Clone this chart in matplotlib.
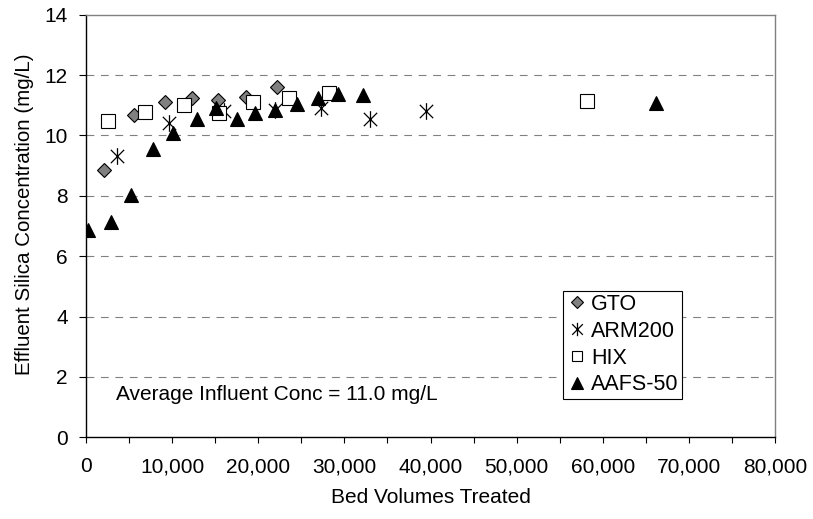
import matplotlib
matplotlib.use("Agg")
import matplotlib.pyplot as plt
from matplotlib.path import Path
from matplotlib.ticker import MultipleLocator, FuncFormatter

plt.rcParams['font.family'] = ['Liberation Sans', 'DejaVu Sans']
plt.rcParams['font.size'] = 15

# Data (bed volumes, effluent silica mg/L)
gto_x = [2120, 5610, 9140, 12270, 15290, 18540, 22140]
gto_y = [8.84, 10.68, 11.10, 11.25, 11.17, 11.26, 11.59]

arm_x = [3630, 9670, 16060, 21950, 27290, 32980, 39480]
arm_y = [9.32, 10.40, 10.81, 10.84, 10.90, 10.53, 10.81]

hix_x = [2590, 6850, 11410, 15480, 19430, 23610, 28250, 58140]
hix_y = [10.49, 10.77, 11.01, 10.73, 11.12, 11.23, 11.41, 11.14]

aafs_x = [200, 2900, 5190, 7740, 10140, 12850, 15090, 17490, 19620, 21950,
          24460, 26900, 29290, 32190, 66180]
aafs_y = [6.87, 7.12, 8.03, 9.54, 10.09, 10.54, 10.90, 10.54, 10.73, 10.84,
          11.03, 11.25, 11.37, 11.35, 11.06]

series_labels = ['GTO', 'ARM200', 'HIX', 'AAFS-50']
annotation = 'Average Influent Conc = 11.0 mg/L'
x_label = 'Bed Volumes Treated'
y_label = 'Effluent Silica Concentration (mg/L)'

# Excel-style star marker: X plus vertical line
star = Path([(0, -1), (0, 1), (-0.8, -0.8), (0.8, 0.8), (-0.8, 0.8), (0.8, -0.8)],
            [Path.MOVETO, Path.LINETO, Path.MOVETO, Path.LINETO, Path.MOVETO, Path.LINETO])

fig = plt.figure(figsize=(8.13, 5.19), dpi=100)
ax = fig.add_axes([0.1058, 0.1574, 0.9533 - 0.1058, 0.9717 - 0.1574])

ax.set_xlim(0, 80000)
ax.set_ylim(0, 14)

for yv in range(2, 14, 2):
    ax.axhline(yv, color='#808080', linewidth=0.8, linestyle=(0, (7, 6)), zorder=1)

ax.plot(gto_x, gto_y, linestyle='none', marker='D', markersize=7.5,
        markerfacecolor='#808080', markeredgecolor='black', markeredgewidth=0.8,
        label=series_labels[0], zorder=3)
ax.plot(arm_x, arm_y, linestyle='none', marker=star, markersize=12,
        markerfacecolor='none', markeredgecolor='black', markeredgewidth=0.9,
        label=series_labels[1], zorder=3)
ax.plot(hix_x, hix_y, linestyle='none', marker='s', markersize=9.5,
        markerfacecolor='white', markeredgecolor='black', markeredgewidth=0.8,
        label=series_labels[2], zorder=3)
ax.plot(aafs_x, aafs_y, linestyle='none', marker='^', markersize=10,
        markerfacecolor='black', markeredgecolor='black', markeredgewidth=0.8,
        label=series_labels[3], zorder=4)

for s in ('left', 'bottom'):
    ax.spines[s].set_color('black')
    ax.spines[s].set_linewidth(1.0)
for s in ('top', 'right'):
    ax.spines[s].set_color('#808080')
    ax.spines[s].set_linewidth(1.0)

ax.xaxis.set_major_locator(MultipleLocator(10000))
ax.xaxis.set_minor_locator(MultipleLocator(5000))
ax.yaxis.set_major_locator(MultipleLocator(2))
ax.xaxis.set_major_formatter(FuncFormatter(lambda v, p: f"{int(v):,}"))
ax.tick_params(axis='x', which='both', direction='out', length=4.5, width=0.8,
               pad=10, labelsize=15)
ax.tick_params(axis='y', direction='out', length=5, width=0.8, pad=8, labelsize=15)

ax.set_xlabel(x_label, fontsize=15, labelpad=8)
ax.set_ylabel(y_label, fontsize=14.8)
ax.yaxis.set_label_coords(-0.0755, 0.528)

ax.text(0.0435, 0.088, annotation, transform=ax.transAxes, fontsize=15,
        ha='left', va='baseline')

leg = ax.legend(loc='upper left', bbox_to_anchor=(0.692, 0.347), frameon=True,
                fancybox=False, edgecolor='black', framealpha=1, fontsize=15.5,
                handlelength=1.0, handletextpad=0.15, labelspacing=0.27,
                borderpad=0.15, borderaxespad=0, markerscale=0.8)
leg.get_frame().set_linewidth(0.8)

fig.savefig('out.png', dpi=100)
